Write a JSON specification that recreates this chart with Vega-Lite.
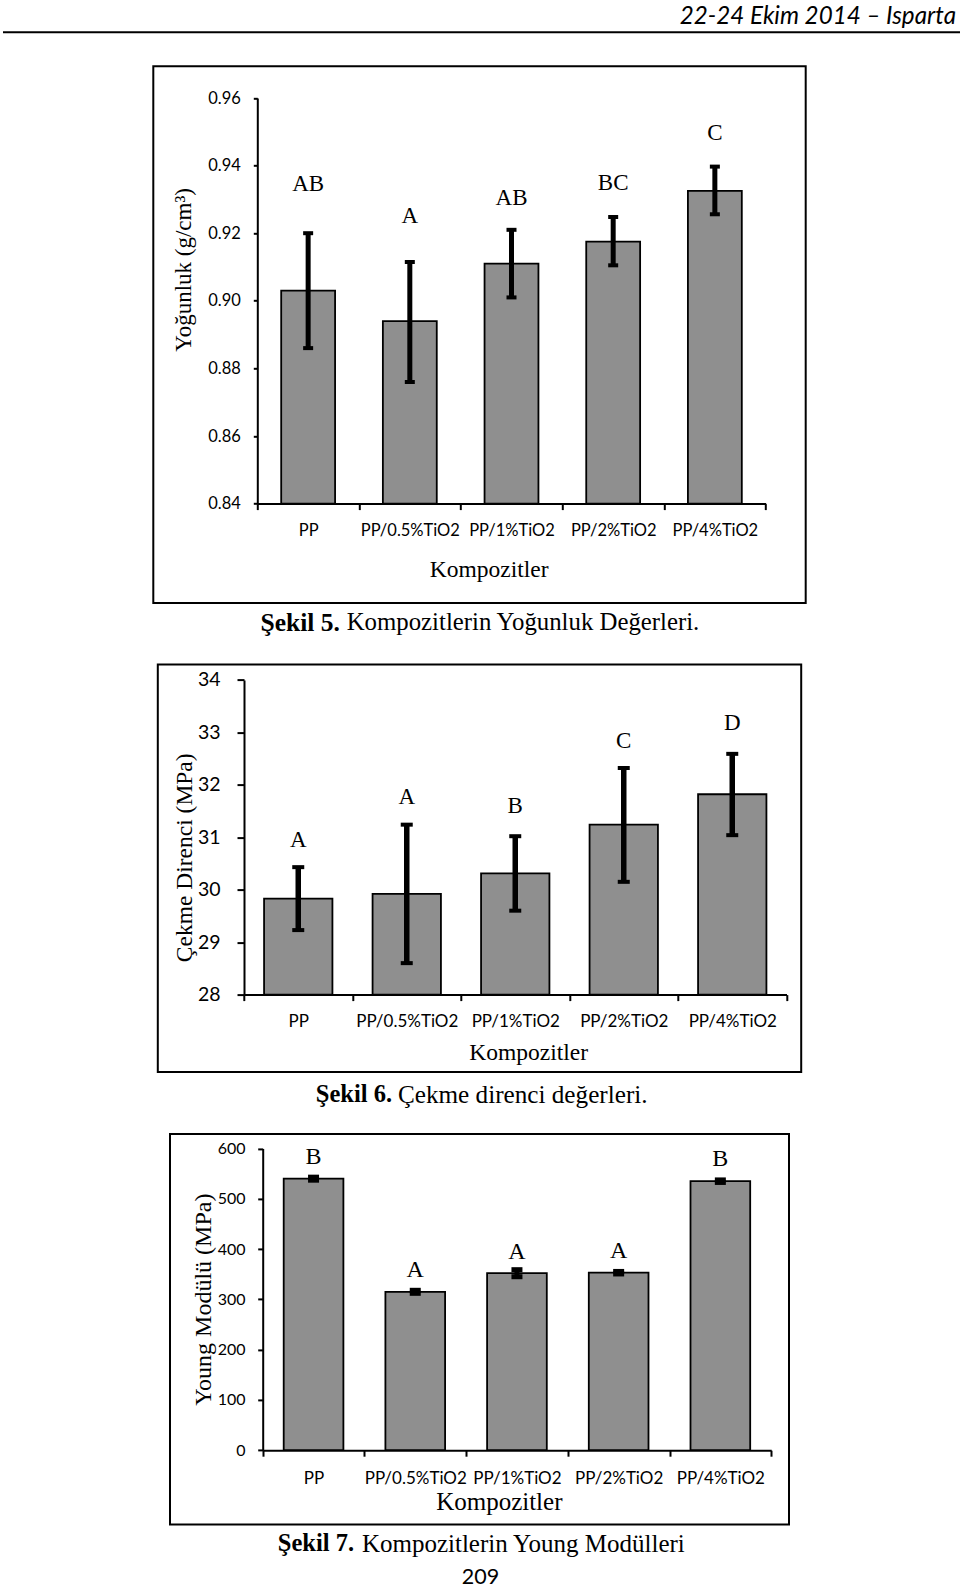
{
  "$schema": "https://vega.github.io/schema/vega-lite/v6.json",
  "background": "white",
  "padding": {"left": 2, "top": 0, "right": 0, "bottom": 0},
  "bounds": "flush",
  "center": true,
  "spacing": 61.3,
  "vconcat": [
    {
      "width": 953,
      "height": 4.7,
      "view": {"stroke": null, "fill": "white"},
      "layer": [
        {"data": {"values": [{"t": "22-24 Ekim 2014 – Isparta"}]},
         "mark": {"type": "text", "font": "Lato", "fontStyle": "italic", "fontSize": 24.2, "align": "right", "baseline": "alphabetic", "color": "black"},
         "encoding": {
           "x": {"datum": 1, "type": "quantitative", "scale": {"domain": [0, 1], "nice": false, "zero": false}, "axis": null},
           "y": {"datum": -4.106, "type": "quantitative", "scale": {"domain": [0, 1], "nice": false, "zero": false}, "axis": null},
           "text": {"field": "t"}}},
        {"data": {"values": [{"t": "line"}]},
         "mark": {"type": "rule", "color": "black", "strokeWidth": 2},
         "encoding": {"x": {"datum": 0, "type": "quantitative"}, "x2": {"datum": 1.0042}, "y": {"datum": -5.872, "type": "quantitative"}}}
      ]
    },
    {
      "width": 652.4,
      "height": 536.7,
      "data": {"values": [
        {"k": "PP", "v": 0.903, "lo": 0.886, "hi": 0.92, "lab": "AB", "ly": 0.9347},
        {"k": "PP/0.5%TiO2", "v": 0.894, "lo": 0.876, "hi": 0.9115, "lab": "A", "ly": 0.9252},
        {"k": "PP/1%TiO2", "v": 0.911, "lo": 0.901, "hi": 0.921, "lab": "AB", "ly": 0.9305},
        {"k": "PP/2%TiO2", "v": 0.9175, "lo": 0.9105, "hi": 0.9248, "lab": "BC", "ly": 0.935},
        {"k": "PP/4%TiO2", "v": 0.9325, "lo": 0.9256, "hi": 0.9397, "lab": "C", "ly": 0.9495}
      ]},
      "encoding": {
        "x": {"field": "k", "type": "nominal", "sort": null,
          "scale": {"range": [104, 612.4], "paddingInner": 0, "paddingOuter": 0},
          "axis": {"orient": "bottom", "offset": -99.4, "tickBand": "extent", "tickSize": 6, "labelPadding": 13, "labelFont": "Lato", "labelFontSize": 16.5, "labelAngle": 0, "labelOverlap": false,
            "title": "Kompozitler", "titleFont": "Liberation Serif", "titleFontSize": 23.5, "titleX": 335.3, "titleY": 66, "titleAlign": "center", "titleBaseline": "middle"}}
      },
      "layer": [
        {"mark": {"type": "bar", "fill": "#8f8f8f", "stroke": "black", "strokeWidth": 1.8, "width": {"band": 0.53}},
         "encoding": {
           "y": {"field": "v", "type": "quantitative",
             "scale": {"domain": [0.84, 0.96], "range": [437.3, 31.7], "zero": false, "nice": false},
             "axis": {"orient": "left", "offset": -104, "values": [0.84, 0.86, 0.88, 0.9, 0.92, 0.94, 0.96], "format": ".2f", "tickSize": 4, "labelPadding": 13, "labelFont": "Lato", "labelFontSize": 16.5,
               "title": "Yoğunluk (g/cm³)", "titleFont": "Liberation Serif", "titleFontSize": 23, "titleAngle": 270, "titleX": -73.5, "titleY": 203, "titleAlign": "center", "titleBaseline": "middle"}},
           "y2": {"datum": 0.84}
         }},
        {"mark": {"type": "rule", "strokeWidth": 5, "color": "black"},
         "encoding": {"y": {"field": "lo", "type": "quantitative"}, "y2": {"field": "hi"}}},
        {"mark": {"type": "tick", "thickness": 4, "size": 10, "color": "black", "opacity": 1},
         "encoding": {"y": {"field": "lo", "type": "quantitative"}}},
        {"mark": {"type": "tick", "thickness": 4, "size": 10, "color": "black", "opacity": 1},
         "encoding": {"y": {"field": "hi", "type": "quantitative"}}},
        {"mark": {"type": "text", "font": "Liberation Serif", "fontSize": 23, "baseline": "middle", "color": "black"},
         "encoding": {"y": {"field": "ly", "type": "quantitative"}, "text": {"field": "lab"}}},
        {"data": {"values": [{"t": "Şekil 5."}]},
         "mark": {"type": "text", "font": "Liberation Serif", "fontSize": 25.5, "fontWeight": "bold", "align": "left", "baseline": "middle", "dx": -219, "color": "black"},
         "encoding": {"y": {"datum": 0.8046, "type": "quantitative"}, "text": {"field": "t"}, "x": null}},
        {"data": {"values": [{"t": "Kompozitlerin Yoğunluk Değerleri."}]},
         "mark": {"type": "text", "font": "Liberation Serif", "fontSize": 24.8, "align": "left", "baseline": "middle", "dx": -132.8, "color": "black"},
         "encoding": {"y": {"datum": 0.8046, "type": "quantitative"}, "text": {"field": "t"}, "x": null}}
      ]
    },
    {
      "width": 643.4,
      "height": 407.3,
      "data": {"values": [
        {"k": "PP", "v": 29.83, "lo": 29.23, "hi": 30.43, "lab": "A", "ly": 30.94},
        {"k": "PP/0.5%TiO2", "v": 29.92, "lo": 28.6, "hi": 31.24, "lab": "A", "ly": 31.76},
        {"k": "PP/1%TiO2", "v": 30.31, "lo": 29.6, "hi": 31.02, "lab": "B", "ly": 31.6},
        {"k": "PP/2%TiO2", "v": 31.24, "lo": 30.15, "hi": 32.32, "lab": "C", "ly": 32.84},
        {"k": "PP/4%TiO2", "v": 31.82, "lo": 31.04, "hi": 32.59, "lab": "D", "ly": 33.18}
      ]},
      "encoding": {
        "x": {"field": "k", "type": "nominal", "sort": null,
          "scale": {"range": [86.2, 628.7], "paddingInner": 0, "paddingOuter": 0},
          "axis": {"orient": "bottom", "offset": -77.3, "tickBand": "extent", "tickSize": 6, "labelPadding": 13, "labelFont": "Lato", "labelFontSize": 17, "labelAngle": 0, "labelOverlap": false,
            "title": "Kompozitler", "titleFont": "Liberation Serif", "titleFontSize": 23.5, "titleX": 370.4, "titleY": 58, "titleAlign": "center", "titleBaseline": "middle"}}
      },
      "layer": [
        {"mark": {"type": "bar", "fill": "#8f8f8f", "stroke": "black", "strokeWidth": 1.8, "width": {"band": 0.63}},
         "encoding": {
           "y": {"field": "v", "type": "quantitative",
             "scale": {"domain": [28, 34], "range": [330, 15.3], "zero": false, "nice": false},
             "axis": {"orient": "left", "offset": -86.2, "values": [28, 29, 30, 31, 32, 33, 34], "format": "d", "tickSize": 7, "labelPadding": 17, "labelFont": "Lato", "labelFontSize": 19.5,
               "title": "Çekme Direnci (MPa)", "titleFont": "Liberation Serif", "titleFontSize": 23.5, "titleAngle": 270, "titleX": -59.5, "titleY": 192.7, "titleAlign": "center", "titleBaseline": "middle"}},
           "y2": {"datum": 28}
         }},
        {"mark": {"type": "rule", "strokeWidth": 5.5, "color": "black"},
         "encoding": {"y": {"field": "lo", "type": "quantitative"}, "y2": {"field": "hi"}}},
        {"mark": {"type": "tick", "thickness": 4, "size": 12, "color": "black", "opacity": 1},
         "encoding": {"y": {"field": "lo", "type": "quantitative"}}},
        {"mark": {"type": "tick", "thickness": 4, "size": 12, "color": "black", "opacity": 1},
         "encoding": {"y": {"field": "hi", "type": "quantitative"}}},
        {"mark": {"type": "text", "font": "Liberation Serif", "fontSize": 23, "baseline": "middle", "color": "black"},
         "encoding": {"y": {"field": "ly", "type": "quantitative"}, "text": {"field": "lab"}}},
        {"data": {"values": [{"t": "Şekil 6."}]},
         "mark": {"type": "text", "font": "Liberation Serif", "fontSize": 24.5, "fontWeight": "bold", "align": "left", "baseline": "middle", "dx": -163.7, "color": "black"},
         "encoding": {"y": {"datum": 26.093, "type": "quantitative"}, "text": {"field": "t"}, "x": null}},
        {"data": {"values": [{"t": "Çekme direnci değerleri."}]},
         "mark": {"type": "text", "font": "Liberation Serif", "fontSize": 25.2, "align": "left", "baseline": "middle", "dx": -81.6, "color": "black"},
         "encoding": {"y": {"datum": 26.093, "type": "quantitative"}, "text": {"field": "t"}, "x": null}}
      ]
    },
    {
      "width": 619,
      "height": 390.6,
      "data": {"values": [
        {"k": "PP", "v": 540, "lo": 537, "hi": 543, "lab": "B", "ly": 583},
        {"k": "PP/0.5%TiO2", "v": 315, "lo": 312, "hi": 318, "lab": "A", "ly": 358},
        {"k": "PP/1%TiO2", "v": 352, "lo": 345, "hi": 359, "lab": "A", "ly": 395},
        {"k": "PP/2%TiO2", "v": 353, "lo": 350.5, "hi": 355.5, "lab": "A", "ly": 397},
        {"k": "PP/4%TiO2", "v": 535, "lo": 532.5, "hi": 537.5, "lab": "B", "ly": 580}
      ]},
      "encoding": {
        "x": {"field": "k", "type": "nominal", "sort": null,
          "scale": {"range": [92.7, 601.2], "paddingInner": 0, "paddingOuter": 0},
          "axis": {"orient": "bottom", "offset": -74.3, "tickBand": "extent", "tickSize": 6, "labelPadding": 13.8, "labelFont": "Lato", "labelFontSize": 17, "labelAngle": 0, "labelOverlap": false,
            "title": "Kompozitler", "titleFont": "Liberation Serif", "titleFontSize": 25, "titleX": 328.8, "titleY": 51.5, "titleAlign": "center", "titleBaseline": "middle"}}
      },
      "layer": [
        {"mark": {"type": "bar", "fill": "#8f8f8f", "stroke": "black", "strokeWidth": 1.8, "width": {"band": 0.587}},
         "encoding": {
           "y": {"field": "v", "type": "quantitative",
             "scale": {"domain": [0, 600], "range": [316.3, 14.6], "zero": false, "nice": false},
             "axis": {"orient": "left", "offset": -92.7, "values": [0, 100, 200, 300, 400, 500, 600], "format": "d", "tickSize": 5, "labelPadding": 12.7, "labelFont": "Lato", "labelFontSize": 16,
               "title": "Young Modülü (MPa)", "titleFont": "Liberation Serif", "titleFontSize": 24, "titleAngle": 270, "titleX": -59.2, "titleY": 165.3, "titleAlign": "center", "titleBaseline": "middle"}},
           "y2": {"datum": 0}
         }},
        {"mark": {"type": "rule", "strokeWidth": 5, "color": "black"},
         "encoding": {"y": {"field": "lo", "type": "quantitative"}, "y2": {"field": "hi"}}},
        {"mark": {"type": "tick", "thickness": 5, "size": 11, "color": "black", "opacity": 1},
         "encoding": {"y": {"field": "lo", "type": "quantitative"}}},
        {"mark": {"type": "tick", "thickness": 5, "size": 11, "color": "black", "opacity": 1},
         "encoding": {"y": {"field": "hi", "type": "quantitative"}}},
        {"mark": {"type": "text", "font": "Liberation Serif", "fontSize": 24, "baseline": "middle", "color": "black"},
         "encoding": {"y": {"field": "ly", "type": "quantitative"}, "text": {"field": "lab"}}},
        {"data": {"values": [{"t": "Şekil 7."}]},
         "mark": {"type": "text", "font": "Liberation Serif", "fontSize": 24.5, "fontWeight": "bold", "align": "left", "baseline": "middle", "dx": -201.7, "color": "black"},
         "encoding": {"y": {"datum": -187, "type": "quantitative"}, "text": {"field": "t"}, "x": null}},
        {"data": {"values": [{"t": "Kompozitlerin Young Modülleri"}]},
         "mark": {"type": "text", "font": "Liberation Serif", "fontSize": 25, "align": "left", "baseline": "middle", "dx": -117.6, "color": "black"},
         "encoding": {"y": {"datum": -187, "type": "quantitative"}, "text": {"field": "t"}, "x": null}},
        {"data": {"values": [{"t": "209"}]},
         "mark": {"type": "text", "font": "Lato", "fontSize": 21.5, "align": "center", "baseline": "middle", "dx": 1, "color": "black"},
         "encoding": {"y": {"datum": -254, "type": "quantitative"}, "text": {"field": "t"}, "x": null}}
      ]
    }
  ],
  "config": {
    "view": {"stroke": "black", "strokeWidth": 2},
    "axis": {"domainColor": "black", "tickColor": "black", "labelColor": "black", "titleColor": "black", "grid": false, "domainWidth": 2, "tickWidth": 2, "titleFontWeight": "normal"},
    "text": {"color": "black"}
  }
}
